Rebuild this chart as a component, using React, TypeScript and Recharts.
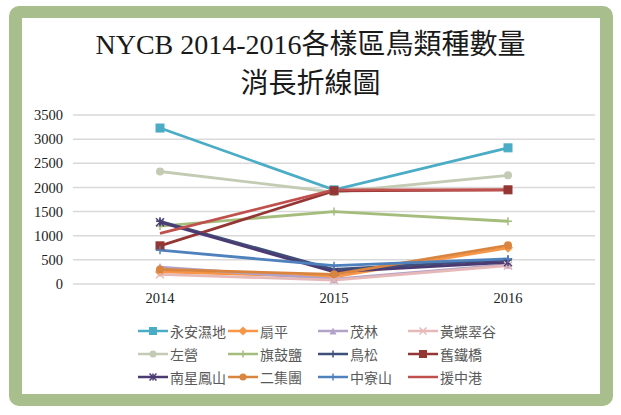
import React from 'react';
import { LineChart, Line, XAxis, YAxis, CartesianGrid } from 'recharts';

const years = ['2014', '2015', '2016'];
const yTicks = [0, 500, 1000, 1500, 2000, 2500, 3000, 3500];

const yonganWetland = [3230, 1950, 2820];
const shanping = [250, 150, 750];
const maolin = [350, 100, 400];
const yellowButterfly = [200, 80, 380];
const zuoying = [2330, 1900, 2250];
const qiguSalt = [1200, 1500, 1300];
const niaosong = [1300, 300, 500];
const oldIronBridge = [790, 1930, 1950];
const nanxingFengshan = [1280, 250, 450];
const erjituan = [300, 200, 800];
const zhongliaoshan = [700, 380, 520];
const yuanzhonggang = [1050, 1950, 1950];

type Shape = 'square' | 'diamond' | 'triangle' | 'x' | 'circle' | 'plus' | 'star' | 'none';

const seriesList: { key: string; name: string; values: number[]; color: string; shape: Shape }[] = [
  { key: 's1', name: '永安濕地', values: yonganWetland, color: '#4bacc6', shape: 'square' },
  { key: 's2', name: '扇平', values: shanping, color: '#f79646', shape: 'diamond' },
  { key: 's3', name: '茂林', values: maolin, color: '#b3a2c7', shape: 'triangle' },
  { key: 's4', name: '黃蝶翠谷', values: yellowButterfly, color: '#e6b9b8', shape: 'x' },
  { key: 's5', name: '左營', values: zuoying, color: '#c4cbb4', shape: 'circle' },
  { key: 's6', name: '旗鼓鹽', values: qiguSalt, color: '#a5bd7c', shape: 'plus' },
  { key: 's7', name: '鳥松', values: niaosong, color: '#3f4f7a', shape: 'plus' },
  { key: 's8', name: '舊鐵橋', values: oldIronBridge, color: '#943634', shape: 'square' },
  { key: 's9', name: '南星鳳山', values: nanxingFengshan, color: '#4b3b73', shape: 'star' },
  { key: 's10', name: '二集團', values: erjituan, color: '#d9843f', shape: 'circle' },
  { key: 's11', name: '中寮山', values: zhongliaoshan, color: '#4f81bd', shape: 'plus' },
  { key: 's12', name: '援中港', values: yuanzhonggang, color: '#c0504d', shape: 'none' },
];

const chartData = years.map((year, i) => {
  const row: Record<string, string | number> = { year };
  seriesList.forEach(s => {
    row[s.key] = s.values[i];
  });
  return row;
});

function Marker({ cx, cy, shape, color, size = 4 }: { cx: number; cy: number; shape: Shape; color: string; size?: number }) {
  const r = size;
  switch (shape) {
    case 'square':
      return <rect x={cx - r} y={cy - r} width={r * 2} height={r * 2} fill={color} stroke={color} />;
    case 'diamond':
      return <polygon points={`${cx},${cy - r - 1} ${cx + r + 1},${cy} ${cx},${cy + r + 1} ${cx - r - 1},${cy}`} fill={color} />;
    case 'triangle':
      return <polygon points={`${cx},${cy - r} ${cx + r},${cy + r} ${cx - r},${cy + r}`} fill={color} />;
    case 'circle':
      return <circle cx={cx} cy={cy} r={r} fill={color} />;
    case 'x':
      return (
        <g stroke={color} strokeWidth={1.5}>
          <line x1={cx - r} y1={cy - r} x2={cx + r} y2={cy + r} />
          <line x1={cx - r} y1={cy + r} x2={cx + r} y2={cy - r} />
        </g>
      );
    case 'plus':
      return (
        <g stroke={color} strokeWidth={1.5}>
          <line x1={cx - r} y1={cy} x2={cx + r} y2={cy} />
          <line x1={cx} y1={cy - r} x2={cx} y2={cy + r} />
        </g>
      );
    case 'star':
      return (
        <g stroke={color} strokeWidth={1.5}>
          <line x1={cx - r} y1={cy - r} x2={cx + r} y2={cy + r} />
          <line x1={cx - r} y1={cy + r} x2={cx + r} y2={cy - r} />
          <line x1={cx} y1={cy - r} x2={cx} y2={cy + r} />
        </g>
      );
    default:
      return <g />;
  }
}

function makeDot(shape: Shape, color: string) {
  return (p: any) => (
    <g key={p.key ?? `${p.dataKey}-${p.index}`}>
      <Marker cx={p.cx} cy={p.cy} shape={shape} color={color} />
    </g>
  );
}

const titleFont = '"Liberation Serif", "Noto Sans CJK TC", serif';
const tickStyle = { fill: '#222', fontSize: 14.5, fontFamily: '"Liberation Serif", serif' };

export default function App() {
  return (
    <div style={{ position: 'absolute', left: 0, top: 0, width: 621, height: 415, background: '#ffffff' }}>
      <div
        style={{
          position: 'absolute',
          left: 9,
          top: 6,
          width: 604,
          height: 400,
          background: '#a8bf8d',
          borderRadius: 10,
        }}
      />
      <div style={{ position: 'absolute', left: 22, top: 18, width: 578, height: 376, background: '#ffffff' }} />
      <div
        style={{
          position: 'absolute',
          left: 0,
          top: 25,
          width: 621,
          textAlign: 'center',
          fontFamily: titleFont,
          fontSize: 28,
          lineHeight: '39px',
          color: '#1a1a1a',
        }}
      >
        <div>NYCB 2014-2016各樣區鳥類種數量</div>
        <div>消長折線圖</div>
      </div>
      <div style={{ position: 'absolute', left: 0, top: 0 }}>
        <LineChart width={621} height={415} data={chartData} margin={{ top: 115, right: 26, bottom: 101, left: 0 }}>
          <CartesianGrid horizontal vertical={false} stroke="#d9d9d9" strokeWidth={1.5} />
          <XAxis
            dataKey="year"
            axisLine={false}
            tickLine={false}
            tickMargin={3}
            padding={{ left: 87, right: 87 }}
            interval={0}
            tick={tickStyle}
          />
          <YAxis
            width={73}
            domain={[0, 3500]}
            ticks={yTicks}
            interval={0}
            axisLine={false}
            tickLine={false}
            tickMargin={4}
            tick={tickStyle}
          />
          {seriesList.map(s => (
            <Line
              key={s.key}
              dataKey={s.key}
              name={s.name}
              type="linear"
              stroke={s.color}
              strokeWidth={2.8}
              dot={makeDot(s.shape, s.color)}
              activeDot={false}
              isAnimationActive={false}
            />
          ))}
        </LineChart>
      </div>
      <div
        style={{
          position: 'absolute',
          left: 138,
          top: 322,
          display: 'grid',
          gridTemplateColumns: 'repeat(4, 90px)',
          rowGap: 5,
          fontFamily: '"Noto Sans CJK TC", sans-serif',
          fontSize: 14,
          color: '#595959',
        }}
      >
        {seriesList.map(s => (
          <div key={s.key} style={{ display: 'flex', alignItems: 'center', height: 18, whiteSpace: 'nowrap' }}>
            <svg width={30} height={14} style={{ marginRight: 2 }}>
              <line x1={0} y1={7} x2={30} y2={7} stroke={s.color} strokeWidth={2.5} />
              <Marker cx={15} cy={7} shape={s.shape} color={s.color} size={3.5} />
            </svg>
            <span>{s.name}</span>
          </div>
        ))}
      </div>
    </div>
  );
}
